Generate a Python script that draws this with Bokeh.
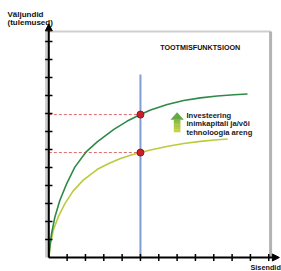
from bokeh.plotting import figure
from bokeh.models import Arrow, NormalHead
from bokeh.core.properties import value
from bokeh.embed import file_html
from bokeh.resources import INLINE

# ---- data (in tick units) ----
x_ticks = [1, 2, 3, 4, 5, 6, 7, 8, 9, 10, 11, 12]
y_ticks = [1, 2, 3, 4, 5, 6, 7, 8, 9, 10, 11, 12]

green_x = [0.0, 0.055, 0.15, 0.33, 0.6, 0.97, 1.42, 2.02, 2.64, 3.55, 4.28, 5.0,
           5.55, 6.46, 7.36, 8.27, 9.19, 10.1, 10.84]
green_y = [0.0, 0.57, 1.32, 2.24, 3.17, 4.09, 5.02, 5.85, 6.42, 7.12, 7.58, 7.94,
           8.2, 8.5, 8.72, 8.87, 8.97, 9.04, 9.08]

yellow_x = [0.0, 0.09, 0.24, 0.51, 0.87, 1.33, 1.88, 2.65, 3.3, 3.91, 4.45, 5.0,
            5.55, 6.5, 7.36, 8.27, 9.19, 9.76]
yellow_y = [0.0, 0.76, 1.5, 2.24, 2.98, 3.7, 4.3, 4.9, 5.24, 5.5, 5.68, 5.83,
            5.97, 6.18, 6.33, 6.45, 6.54, 6.58]

input_level = 5.0
title_text = "TOOTMISFUNKTSIOON"
note_lines = ["Investeering", "inimkapitali ja/või", "tehnoloogia areng"]
y_label_lines = ["Väljundid", "(tulemused)"]
x_label = "Sisendid"

green_at = green_y[green_x.index(input_level)]
yellow_at = yellow_y[yellow_x.index(input_level)]

FONT = value("Liberation Sans")

p = figure(width=281, height=271, x_range=(-2.635, 12.695), y_range=(-0.778, 14.278),
           output_backend="svg", toolbar_location=None, min_border=0,
           min_border_left=0, min_border_right=0, min_border_top=0, min_border_bottom=0)
p.axis.visible = False
p.grid.visible = False
p.outline_line_color = None
p.background_fill_color = "white"
p.border_fill_color = "white"

# panel frame (shadowed box)
p.line([0, 12.1], [12.56, 12.56], line_color="#cfcfcf", line_width=2)
p.line([12.1, 12.1], [0, 12.56], line_color="#b3b3b3", line_width=3)

# dashed guides
p.line([0, input_level], [green_at, green_at], line_color="#e06868", line_width=1, line_dash="3 2")
p.line([0, input_level], [yellow_at, yellow_at], line_color="#e06868", line_width=1, line_dash="3 2")

# blue vertical input line
p.line([input_level, input_level], [0, 10.17], line_color="#7f9fd3", line_width=2)

# curves
p.line(yellow_x, yellow_y, line_color="#bccb3c", line_width=1.6)
p.line(green_x, green_y, line_color="#2f8a48", line_width=1.6)

# points
p.scatter([input_level, input_level], [green_at, yellow_at], size=7,
          fill_color="#cc1f2a", line_color="#8b1a1a", line_width=1)

# axes (shadow + line)
p.line([-0.12, -0.12], [0, 12.6], line_color="#9a9a9a", line_width=3, line_alpha=0.5)
p.add_layout(Arrow(end=NormalHead(size=7, fill_color="black", line_color="black"),
                   x_start=0, y_start=0, x_end=0, y_end=12.98, line_width=2, line_color="black"))
p.add_layout(Arrow(end=NormalHead(size=7, fill_color="black", line_color="black"),
                   x_start=0, y_start=0, x_end=12.58, y_end=0, line_width=2, line_color="black"))

# ticks
p.segment(x0=[-0.2] * len(y_ticks), y0=y_ticks, x1=[0.2] * len(y_ticks), y1=y_ticks,
          line_color="black", line_width=1.5)
p.segment(x0=x_ticks, y0=[-0.2] * len(x_ticks), x1=x_ticks, y1=[0.2] * len(x_ticks),
          line_color="black", line_width=1.5)

# gradient arrow
shaft_cols = ["#86b946", "#98c043", "#a8c742", "#b7cd40", "#c5d33f"]
top, bot = 7.65, 6.96
step = (top - bot) / len(shaft_cols)
for i, c in enumerate(shaft_cols):
    p.quad(left=6.82, right=7.18, top=top - i * step + 0.01, bottom=top - (i + 1) * step,
           fill_color=c, line_color=None)
p.patch([6.64, 7.0, 7.365], [7.65, 8.07, 7.65], fill_color="#66a844", line_color=None)

# texts
p.text([8.26], [11.64], text=[title_text], text_font=FONT, text_font_style="bold",
       text_font_size="7.2px", text_align="center", text_baseline="alphabetic", text_color="#111111")
for i, t in enumerate(note_lines):
    p.text([7.51], [7.9 - i * 0.465], text=[t], text_font=FONT, text_font_style="bold",
           text_font_size="7.6px", text_align="left", text_baseline="alphabetic", text_color="#1a1a2a")
for i, t in enumerate(y_label_lines):
    p.text([-2.253], [13.5 - i * 0.43], text=[t], text_font=FONT, text_font_style="bold",
           text_font_size="8px", text_align="left", text_baseline="alphabetic", text_color="#111111")
p.text([11.0], [-0.57], text=[x_label], text_font=FONT, text_font_style="bold",
       text_font_size="7.3px", text_align="left", text_baseline="alphabetic", text_color="#111111")

open("out.html", "w").write(file_html(p, INLINE))
